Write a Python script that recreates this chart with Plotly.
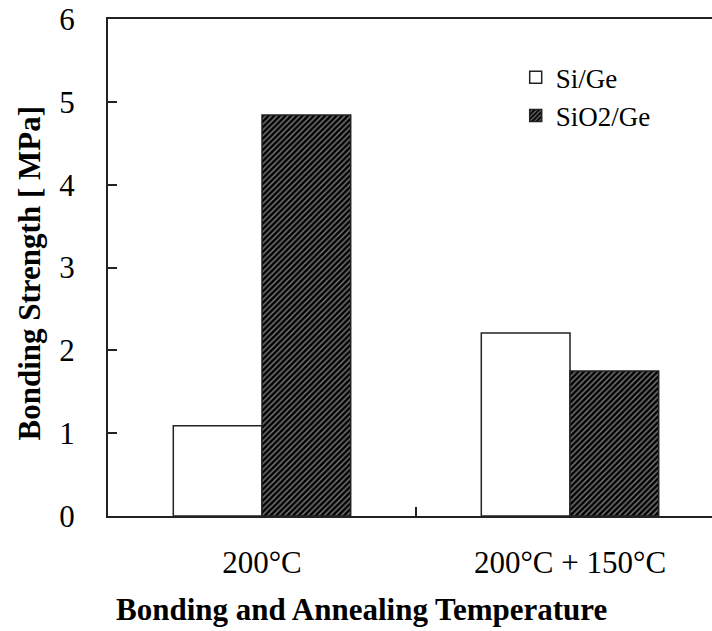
import plotly.graph_objects as go

categories = ["200°C", "200°C + 150°C"]
si_ge = [1.09, 2.21]
sio2_ge = [4.84, 1.75]
y_ticks = [0, 1, 2, 3, 4, 5, 6]
x_title = "Bonding and Annealing Temperature"
y_title = "Bonding Strength [ MPa]"

xpos = list(range(len(categories)))
FONT = "Liberation Serif, Times New Roman, serif"

fig = go.Figure()
fig.add_trace(go.Bar(
    x=xpos, y=si_ge, name="Si/Ge",
    marker=dict(color="white", line=dict(color="#222222", width=1.5)),
))
fig.add_trace(go.Bar(
    x=xpos, y=sio2_ge, name="SiO2/Ge",
    marker=dict(color="black", line=dict(color="#222222", width=1.5),
                pattern=dict(shape="/", bgcolor="black", fgcolor="white",
                             size=4, solidity=0.35)),
))

fig.update_layout(
    width=712, height=631,
    margin=dict(l=108, r=0, t=19, b=115),
    paper_bgcolor="white", plot_bgcolor="white",
    barmode="group", bargap=0.424, bargroupgap=0,
    font=dict(family=FONT, size=28, color="black"),
    showlegend=True,
    legend=dict(x=0.675, y=0.931, xanchor="left", yanchor="top",
                bgcolor="rgba(0,0,0,0)", font=dict(family=FONT, size=27),
                tracegroupgap=0, itemwidth=30),
    xaxis=dict(
        range=[-0.5, 1.461], automargin=False,
        tickmode="array", tickvals=xpos, ticktext=categories,
        ticks="", showgrid=False, zeroline=False,
        showline=True, linecolor="#222222", linewidth=2, mirror=True,
        tickfont=dict(family=FONT, size=31),
        ticklabelstandoff=18,
        minor=dict(tickmode="array", tickvals=[0.5], ticks="inside",
                   ticklen=9, tickwidth=1.5, tickcolor="#222222", showgrid=False),
    ),
    yaxis=dict(
        range=[0, 6], tickmode="array", tickvals=y_ticks, automargin=False,
        ticks="inside", ticklen=9, tickwidth=1.5, tickcolor="#222222",
        showgrid=False, zeroline=False,
        showline=True, linecolor="#222222", linewidth=2, mirror=False,
        tickfont=dict(family=FONT, size=31),
        ticklabelstandoff=25,
    ),
    annotations=[
        dict(text=f"<b>{x_title}</b>", xref="paper", yref="paper",
             x=0.419, y=-0.227, xanchor="center", yanchor="bottom",
             showarrow=False, font=dict(family=FONT, size=31)),
        dict(text=f"<b>{y_title}</b>", xref="paper", yref="paper",
             x=-0.1308, y=0.488, xanchor="center", yanchor="middle",
             textangle=-90, showarrow=False, font=dict(family=FONT, size=31)),
    ],
)

fig.write_html("out.html")
